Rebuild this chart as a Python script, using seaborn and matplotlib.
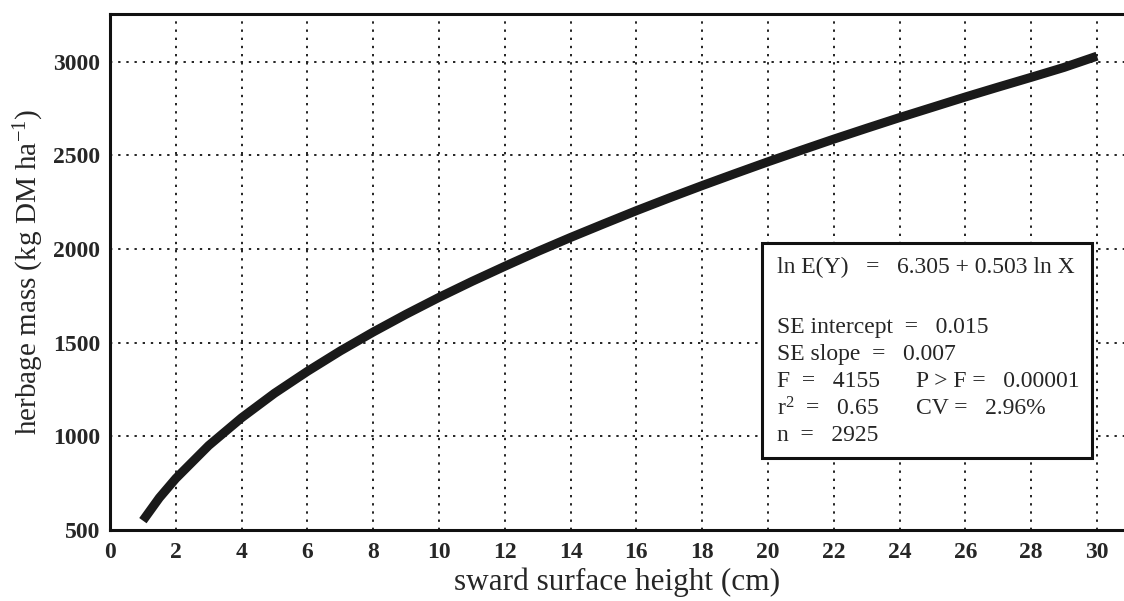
import matplotlib
matplotlib.use("Agg")
import matplotlib.pyplot as plt
import seaborn as sns
import pandas as pd
from matplotlib.patches import Rectangle

# Data
height_cm = [1, 1.5, 2, 3, 4, 5, 6, 7, 8, 9, 10, 11, 12, 13, 14, 15, 16, 17, 18,
             19, 20, 21, 22, 23, 24, 25, 26, 27, 28, 29, 30]
herbage_mass = [550, 672, 775, 951, 1099, 1230, 1347, 1456, 1557, 1652, 1742,
                1827, 1908, 1987, 2062, 2134, 2205, 2273, 2339, 2403, 2466,
                2527, 2587, 2645, 2702, 2757, 2812, 2865, 2917, 2970, 3030]
x_ticks = list(range(0, 31, 2))
y_ticks = [500, 1000, 1500, 2000, 2500, 3000]
stats_lines_left = ["SE intercept  =   0.015", "SE slope  =   0.007",
                    "F  =   4155", "r$^{2}$  =   0.65", "n  =   2925"]
stats_lines_right = ["", "", "P > F =   0.00001", "CV =   2.96%", ""]
equation = "ln E(Y)   =   6.305 + 0.503 ln X"

sns.set_style("white")
plt.rcParams["font.family"] = ["Liberation Serif", "DejaVu Serif"]
plt.rcParams["mathtext.fontset"] = "custom"
plt.rcParams["mathtext.rm"] = "Liberation Serif"
plt.rcParams["mathtext.it"] = "Liberation Serif:italic"
plt.rcParams["mathtext.bf"] = "Liberation Serif:bold"

df = pd.DataFrame({"x": height_cm, "y": herbage_mass})

fig = plt.figure(figsize=(11.24, 6.01), dpi=100)
ax = fig.add_axes([110 / 1124, 71 / 601, 1 - 110 / 1124, (530 - 14) / 601])

sns.lineplot(data=df, x="x", y="y", ax=ax, color="#1a1a1a", linewidth=6.5,
             solid_capstyle="butt", zorder=3)

ax.set_xlim(0, 30.82)
ax.set_ylim(500, 3255)
ax.set_xticks(x_ticks)
ax.set_yticks(y_ticks)
ax.tick_params(axis="x", length=0, labelsize=17, pad=9)
ax.tick_params(axis="y", length=0, labelsize=17, pad=7)
for lab in ax.get_xticklabels() + ax.get_yticklabels():
    lab.set_fontweight("bold")

ax.grid(True, color="#222222", linestyle=(0, (1.2, 3.0)), linewidth=1.4, zorder=1)
for side in ["left", "top", "bottom"]:
    ax.spines[side].set_linewidth(2.2)
    ax.spines[side].set_color("#111111")
ax.spines["right"].set_visible(False)

ax.set_xlabel("sward surface height (cm)", fontsize=22.5, labelpad=3)
ax.set_ylabel("herbage mass (kg DM ha$^{-1}$)", fontsize=21, labelpad=5)

# statistics box
box = Rectangle((19.82, 885), 29.85 - 19.82, 2033 - 885,
                facecolor="white", edgecolor="#111111", linewidth=2.2, zorder=4)
ax.add_patch(box)

fs = 17
x0 = 20.28
x1 = 24.5
ax.text(x0, 1900, equation, fontsize=fs, va="center", ha="left", zorder=5)
y_start = 1579
dy = 144
for i, (l, r) in enumerate(zip(stats_lines_left, stats_lines_right)):
    yy = y_start - i * dy
    ax.text(x0, yy, l, fontsize=fs, va="center", ha="left", zorder=5)
    if r:
        ax.text(x1, yy, r, fontsize=fs, va="center", ha="left", zorder=5)

fig.savefig("out.png", dpi=100)
